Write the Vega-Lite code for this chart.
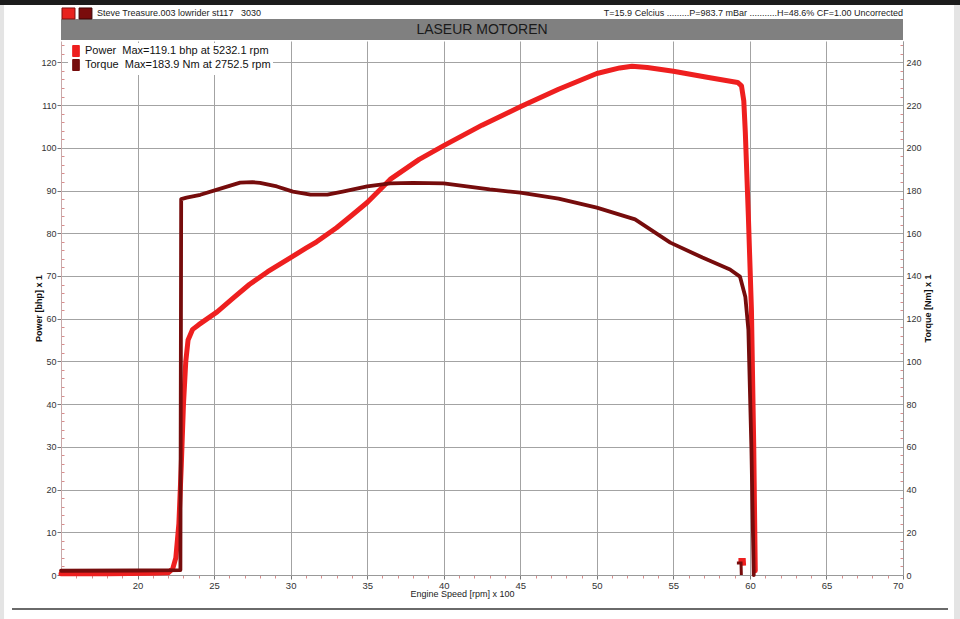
{
  "$schema": "https://vega.github.io/schema/vega-lite/v6.json",
  "width": 842,
  "height": 534,
  "autosize": {"type": "none"},
  "padding": {"left": 61, "top": 41, "right": 57, "bottom": 44},
  "background": "white",
  "config": {
    "view": {"stroke": null},
    "font": "Liberation Sans",
    "axis": {"labelFont": "Liberation Sans", "titleFont": "Liberation Sans"},
    "legend": {"labelFont": "Liberation Sans"},
    "text": {"font": "Liberation Sans"}
  },
  "datasets": {
    "one": [{}],
    "power": [
      {"rpm": 15, "value": 0.3, "series": "Power"},
      {"rpm": 18, "value": 0.3, "series": "Power"},
      {"rpm": 21, "value": 0.4, "series": "Power"},
      {"rpm": 22.0, "value": 0.5, "series": "Power"},
      {"rpm": 22.3, "value": 1.5, "series": "Power"},
      {"rpm": 22.5, "value": 4, "series": "Power"},
      {"rpm": 22.7, "value": 12, "series": "Power"},
      {"rpm": 22.85, "value": 25, "series": "Power"},
      {"rpm": 23.0, "value": 40, "series": "Power"},
      {"rpm": 23.15, "value": 50, "series": "Power"},
      {"rpm": 23.3, "value": 55, "series": "Power"},
      {"rpm": 23.6, "value": 57.5, "series": "Power"},
      {"rpm": 24.0, "value": 58.6, "series": "Power"},
      {"rpm": 25.2, "value": 61.6, "series": "Power"},
      {"rpm": 26.3, "value": 65, "series": "Power"},
      {"rpm": 27.3, "value": 68, "series": "Power"},
      {"rpm": 28.5, "value": 71, "series": "Power"},
      {"rpm": 30.0, "value": 74.3, "series": "Power"},
      {"rpm": 31.0, "value": 76.5, "series": "Power"},
      {"rpm": 31.7, "value": 78, "series": "Power"},
      {"rpm": 33.0, "value": 81.3, "series": "Power"},
      {"rpm": 34.0, "value": 84.2, "series": "Power"},
      {"rpm": 35.0, "value": 87.2, "series": "Power"},
      {"rpm": 36.5, "value": 92.6, "series": "Power"},
      {"rpm": 38.4, "value": 97.3, "series": "Power"},
      {"rpm": 40.0, "value": 100.5, "series": "Power"},
      {"rpm": 42.5, "value": 105.3, "series": "Power"},
      {"rpm": 45.0, "value": 109.6, "series": "Power"},
      {"rpm": 47.5, "value": 113.7, "series": "Power"},
      {"rpm": 50.0, "value": 117.4, "series": "Power"},
      {"rpm": 51.5, "value": 118.7, "series": "Power"},
      {"rpm": 52.3, "value": 119.1, "series": "Power"},
      {"rpm": 53.3, "value": 118.8, "series": "Power"},
      {"rpm": 55.0, "value": 117.9, "series": "Power"},
      {"rpm": 57.2, "value": 116.5, "series": "Power"},
      {"rpm": 59.2, "value": 115.3, "series": "Power"},
      {"rpm": 59.45, "value": 114.5, "series": "Power"},
      {"rpm": 59.6, "value": 111, "series": "Power"},
      {"rpm": 59.7, "value": 103.6, "series": "Power"},
      {"rpm": 59.9, "value": 83.9, "series": "Power"},
      {"rpm": 60.1, "value": 62, "series": "Power"},
      {"rpm": 60.25, "value": 30, "series": "Power"},
      {"rpm": 60.35, "value": 1, "series": "Power"}
    ],
    "torque": [
      {"rpm": 15, "value": 2.0, "series": "Torque"},
      {"rpm": 20, "value": 2.1, "series": "Torque"},
      {"rpm": 22.8, "value": 2.3, "series": "Torque"},
      {"rpm": 22.85, "value": 176, "series": "Torque"},
      {"rpm": 23.2, "value": 176.7, "series": "Torque"},
      {"rpm": 24.1, "value": 178, "series": "Torque"},
      {"rpm": 25.2, "value": 180.4, "series": "Torque"},
      {"rpm": 26.7, "value": 183.7, "series": "Torque"},
      {"rpm": 27.5, "value": 183.9, "series": "Torque"},
      {"rpm": 28.0, "value": 183.6, "series": "Torque"},
      {"rpm": 29.1, "value": 181.9, "series": "Torque"},
      {"rpm": 30.15, "value": 179.5, "series": "Torque"},
      {"rpm": 31.3, "value": 178.1, "series": "Torque"},
      {"rpm": 32.4, "value": 178.1, "series": "Torque"},
      {"rpm": 33.4, "value": 179.5, "series": "Torque"},
      {"rpm": 35.0, "value": 181.9, "series": "Torque"},
      {"rpm": 36.5, "value": 183.3, "series": "Torque"},
      {"rpm": 38.0, "value": 183.6, "series": "Torque"},
      {"rpm": 40.0, "value": 183.3, "series": "Torque"},
      {"rpm": 41.5, "value": 181.9, "series": "Torque"},
      {"rpm": 43.0, "value": 180.5, "series": "Torque"},
      {"rpm": 45.0, "value": 179, "series": "Torque"},
      {"rpm": 47.5, "value": 176.2, "series": "Torque"},
      {"rpm": 50.0, "value": 172, "series": "Torque"},
      {"rpm": 52.5, "value": 166.5, "series": "Torque"},
      {"rpm": 54.8, "value": 155.6, "series": "Torque"},
      {"rpm": 56.9, "value": 148.6, "series": "Torque"},
      {"rpm": 58.7, "value": 143, "series": "Torque"},
      {"rpm": 59.35, "value": 139.7, "series": "Torque"},
      {"rpm": 59.7, "value": 130.3, "series": "Torque"},
      {"rpm": 59.9, "value": 114.8, "series": "Torque"},
      {"rpm": 60.1, "value": 58.6, "series": "Torque"},
      {"rpm": 60.25, "value": 0, "series": "Torque"}
    ],
    "powerTail": [
      {"rpm": 59.25, "value": 3.5, "step": 1},
      {"rpm": 59.6, "value": 3.5, "step": 2},
      {"rpm": 59.62, "value": 2.2, "step": 3}
    ],
    "torqueTail": [
      {"rpm": 59.15, "value": 5.6, "step": 1},
      {"rpm": 59.42, "value": 5.6, "step": 2},
      {"rpm": 59.44, "value": 0, "step": 3}
    ]
  },
  "resolve": {
    "scale": {"y": "independent"},
    "axis": {"x": "independent", "y": "independent"}
  },
  "layer": [
    {
      "data": {"name": "one"},
      "mark": {"type": "rect", "color": "#1c1c1c"},
      "encoding": {
        "x": {"datum": 10, "type": "quantitative", "scale": {"domain": [15, 70], "nice": false, "zero": false},
          "axis": {"orient": "bottom", "values": [16,17,18,19,21,22,23,24,26,27,28,29,31,32,33,34,36,37,38,39,41,42,43,44,46,47,48,49,51,52,53,54,56,57,58,59,61,62,63,64,66,67,68,69],
            "labels": false, "grid": false, "domain": false, "tickColor": "#d98c8c", "tickSize": 3, "title": null}},
        "x2": {"datum": 80},
        "y": {"datum": 133.4, "type": "quantitative", "scale": {"domain": [0, 125], "nice": false},
          "axis": {"orient": "left", "values": [2,4,6,8,12,14,16,18,22,24,26,28,32,34,36,38,42,44,46,48,52,54,56,58,62,64,66,68,72,74,76,78,82,84,86,88,92,94,96,98,102,104,106,108,112,114,116,118,122,124],
            "labels": false, "grid": false, "domain": false, "tickColor": "#d98c8c", "tickSize": -3, "title": null}},
        "y2": {"datum": 145}
      }
    },
    {
      "data": {"name": "one"},
      "mark": {"type": "rect", "color": "#e4e4e4"},
      "encoding": {
        "x": {"datum": 10, "type": "quantitative", "scale": {"domain": [15, 70], "nice": false, "zero": false}, "axis": null},
        "x2": {"datum": 11.28},
        "y": {"datum": -20, "type": "quantitative", "scale": {"domain": [0, 125], "nice": false}, "axis": null},
        "y2": {"datum": 133.4}
      }
    },
    {
      "data": {"name": "one"},
      "mark": {"type": "rect", "color": "#e4e4e4"},
      "encoding": {
        "x": {"datum": 73.33, "type": "quantitative", "scale": {"domain": [15, 70], "nice": false, "zero": false}, "axis": null},
        "x2": {"datum": 80},
        "y": {"datum": -20, "type": "quantitative", "scale": {"domain": [0, 125], "nice": false}, "axis": null},
        "y2": {"datum": 133.4}
      }
    },
    {
      "data": {"name": "one"},
      "mark": {"type": "rule", "color": "#6a6a6a", "strokeWidth": 2},
      "encoding": {
        "x": {"datum": 11.8, "type": "quantitative", "scale": {"domain": [15, 70], "nice": false, "zero": false}, "axis": null},
        "x2": {"datum": 72.94},
        "y": {"datum": -7.96, "type": "quantitative", "scale": {"domain": [0, 125], "nice": false}, "axis": null}
      }
    },
    {
      "data": {"name": "one"},
      "mark": {"type": "rect", "color": "#808080"},
      "encoding": {
        "x": {"datum": 15, "type": "quantitative", "scale": {"domain": [15, 70], "nice": false, "zero": false}, "axis": null},
        "x2": {"datum": 70},
        "y": {"datum": 125.23, "type": "quantitative", "scale": {"domain": [0, 125], "nice": false}, "axis": null},
        "y2": {"datum": 130.15}
      }
    },
    {
      "data": {"name": "one"},
      "mark": {"type": "text", "text": "LASEUR MOTOREN", "fontSize": 14, "color": "#1a1a1a", "align": "center", "baseline": "middle"},
      "encoding": {
        "x": {"datum": 42.5, "type": "quantitative", "scale": {"domain": [15, 70], "nice": false, "zero": false}, "axis": null},
        "y": {"datum": 127.6, "type": "quantitative", "scale": {"domain": [0, 125], "nice": false}, "axis": null}
      }
    },
    {
      "data": {"name": "one"},
      "mark": {"type": "rect", "color": "#e8221e", "stroke": "#7a1010", "strokeWidth": 1},
      "encoding": {
        "x": {"datum": 15.065, "type": "quantitative", "scale": {"domain": [15, 70], "nice": false, "zero": false}, "axis": null},
        "x2": {"datum": 15.914},
        "y": {"datum": 130.15, "type": "quantitative", "scale": {"domain": [0, 125], "nice": false}, "axis": null},
        "y2": {"datum": 132.73}
      }
    },
    {
      "data": {"name": "one"},
      "mark": {"type": "rect", "color": "#7a0c0c", "stroke": "#3a0505", "strokeWidth": 1},
      "encoding": {
        "x": {"datum": 16.18, "type": "quantitative", "scale": {"domain": [15, 70], "nice": false, "zero": false}, "axis": null},
        "x2": {"datum": 17.02},
        "y": {"datum": 130.15, "type": "quantitative", "scale": {"domain": [0, 125], "nice": false}, "axis": null},
        "y2": {"datum": 132.73}
      }
    },
    {
      "data": {"name": "one"},
      "mark": {"type": "text", "text": "Steve Treasure.003 lowrider st117\u00a0\u00a0\u00a03030", "fontSize": 9, "color": "#222", "align": "left", "baseline": "middle"},
      "encoding": {
        "x": {"datum": 17.35, "type": "quantitative", "scale": {"domain": [15, 70], "nice": false, "zero": false}, "axis": null},
        "y": {"datum": 131.55, "type": "quantitative", "scale": {"domain": [0, 125], "nice": false}, "axis": null}
      }
    },
    {
      "data": {"name": "one"},
      "mark": {"type": "text", "text": "T=15.9 Celcius .........P=983.7 mBar ...........H=48.6% CF=1.00 Uncorrected", "fontSize": 9, "color": "#222", "align": "right", "baseline": "middle"},
      "encoding": {
        "x": {"datum": 70, "type": "quantitative", "scale": {"domain": [15, 70], "nice": false, "zero": false}, "axis": null},
        "y": {"datum": 263.1, "type": "quantitative", "scale": {"domain": [0, 250], "nice": false},
          "axis": {"orient": "right", "values": [4,8,12,16,24,28,32,36,44,48,52,56,64,68,72,76,84,88,92,96,104,108,112,116,124,128,132,136,144,148,152,156,164,168,172,176,184,188,192,196,204,208,212,216,224,228,232,236,244,248],
            "labels": false, "grid": false, "domain": false, "tickColor": "#d98c8c", "tickSize": -3, "title": null}}
      }
    },
    {
      "data": {"name": "power"},
      "mark": {"type": "line", "strokeWidth": 5, "strokeCap": "round", "strokeJoin": "round"},
      "encoding": {
        "x": {"field": "rpm", "type": "quantitative", "scale": {"domain": [15, 70], "nice": false, "zero": false},
          "axis": {"orient": "bottom", "values": [20,25,30,35,40,45,50,55,60,65,70], "grid": true, "gridColor": "#a3a3a3", "gridWidth": 1,
            "domainColor": "#999", "tickColor": "#777", "tickSize": 4, "labelFontSize": 9.5, "labelColor": "#333", "labelPadding": 1,
            "title": "Engine Speed [rpm] x 100", "titleFontSize": 9, "titleFontWeight": "normal", "titleColor": "#222", "titlePadding": 0, "titleX": 401}},
        "y": {"field": "value", "type": "quantitative", "scale": {"domain": [0, 125], "nice": false},
          "axis": {"orient": "left", "values": [0,10,20,30,40,50,60,70,80,90,100,110,120], "grid": true, "gridColor": "#a3a3a3", "gridWidth": 1,
            "domainColor": "#c9a9a9", "tickColor": "#777", "tickSize": 4, "labelFontSize": 9, "labelColor": "#333", "labelPadding": 1,
            "title": "Power [bhp] x 1", "titleFontSize": 9, "titleFontWeight": "bold", "titleColor": "#111", "titlePadding": -3}},
        "color": {"field": "series", "type": "nominal",
          "scale": {"domain": ["Power", "Torque"], "range": ["#ee1f1f", "#760c0c"]},
          "legend": {"orient": "none", "legendX": 7, "legendY": 2, "title": null, "fillColor": "white", "padding": 2,
            "labelFontSize": 11, "labelColor": "#111", "labelOffset": 3, "rowPadding": -3, "labelLimit": 400,
            "symbolType": "M-0.6,-1H0.6V1H-0.6Z", "symbolSize": 121, "symbolStrokeWidth": 1, "zindex": 1,
            "labelExpr": "datum.label == 'Power' ? 'Power\u00a0\u00a0Max=119.1 bhp at 5232.1 rpm' : 'Torque\u00a0\u00a0Max=183.9 Nm at 2752.5 rpm'",
            "encode": {"symbols": {"update": {"fill": {"scale": "color", "field": "value"}, "stroke": {"value": "#3a0505"}, "strokeWidth": {"value": 1}}}}}}
      }
    },
    {
      "data": {"name": "torque"},
      "mark": {"type": "line", "strokeWidth": 3.8, "strokeCap": "round", "strokeJoin": "round"},
      "encoding": {
        "x": {"field": "rpm", "type": "quantitative", "scale": {"domain": [15, 70], "nice": false, "zero": false}, "axis": null},
        "y": {"field": "value", "type": "quantitative", "scale": {"domain": [0, 250], "nice": false},
          "axis": {"orient": "right", "values": [0,20,40,60,80,100,120,140,160,180,200,220,240], "grid": false,
            "domainColor": "#999", "tickSize": 0, "labelFontSize": 9, "labelColor": "#333", "labelPadding": 3,
            "title": "Torque [Nm] x 1", "titleAngle": 270, "titleBaseline": "top", "titleFontSize": 9, "titleFontWeight": "bold", "titleColor": "#111", "titlePadding": 2}},
        "color": {"field": "series", "type": "nominal"}
      }
    },
    {
      "data": {"name": "powerTail"},
      "mark": {"type": "line", "strokeWidth": 4, "color": "#ee1f1f"},
      "encoding": {
        "x": {"field": "rpm", "type": "quantitative", "scale": {"domain": [15, 70], "nice": false, "zero": false}, "axis": null},
        "y": {"field": "value", "type": "quantitative", "scale": {"domain": [0, 125], "nice": false}, "axis": null},
        "order": {"field": "step", "type": "quantitative"}
      }
    },
    {
      "data": {"name": "torqueTail"},
      "mark": {"type": "line", "strokeWidth": 3, "color": "#760c0c"},
      "encoding": {
        "x": {"field": "rpm", "type": "quantitative", "scale": {"domain": [15, 70], "nice": false, "zero": false}, "axis": null},
        "y": {"field": "value", "type": "quantitative", "scale": {"domain": [0, 250], "nice": false}, "axis": null},
        "order": {"field": "step", "type": "quantitative"}
      }
    }
  ]
}
